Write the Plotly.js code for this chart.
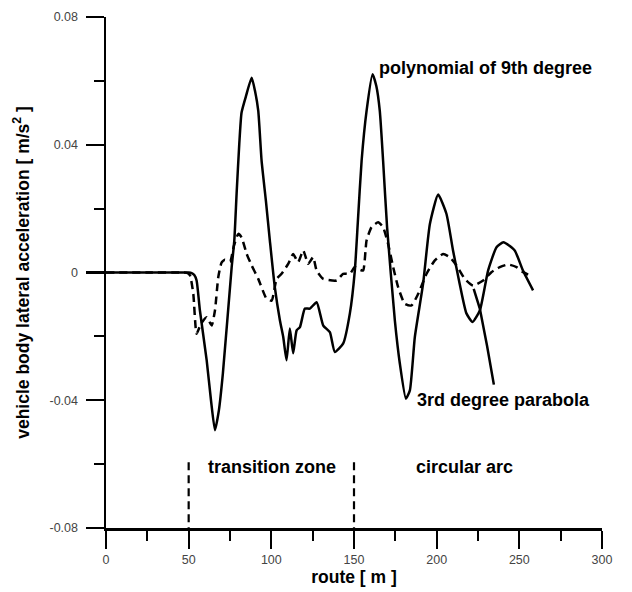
<!DOCTYPE html>
<html>
<head>
<meta charset="utf-8">
<script src="https://cdn.plot.ly/plotly-3.0.1.min.js"></script>
<style>html,body{margin:0;padding:0;background:#fff;}#chart{width:632px;height:592px;}</style>
</head>
<body>
<div id="chart"></div>
<script>
// Solid curve (route m, acceleration m/s2)
const solidRoute = [0, 25, 45, 50.0, 51.8, 53.4, 54.8, 56.8, 60.9, 63.5, 65.9, 68.3, 70.7, 76.0, 77.6, 79.0, 80.6, 82.0, 84.7, 88.1, 90.1, 92.1, 94.1, 96.7, 99.1, 102.1, 105.2, 107.2, 109.2, 111.2, 113.2, 115.3, 117.3, 120.3, 123.3, 127.4, 131.4, 135.4, 138.4, 143.4, 147.5, 150.5, 152.3, 154.6, 157.6, 161.2, 163.5, 165.6, 167.6, 170.0, 174.7, 177.7, 181.4, 183.8, 186.8, 191.8, 195.9, 200.9, 205.9, 209.9, 213.9, 218.0, 221.7, 226.1, 231.1, 236.2, 240.4, 247.2, 252.2, 258.3];
const solidAccel = [0, 0, 0, 0, -0.0002, -0.0008, -0.0025, -0.0119, -0.0275, -0.040, -0.0494, -0.0431, -0.0316, 0.0016, 0.0100, 0.0247, 0.0402, 0.0501, 0.0553, 0.0610, 0.0569, 0.0506, 0.0350, 0.0225, 0.0100, -0.0046, -0.0150, -0.0202, -0.0275, -0.0175, -0.0253, -0.0181, -0.0171, -0.0113, -0.0113, -0.0093, -0.0166, -0.0187, -0.0249, -0.0223, -0.0128, 0.0006, 0.0156, 0.0350, 0.0506, 0.0621, 0.0584, 0.0506, 0.0350, 0.0142, -0.0150, -0.0284, -0.0395, -0.0369, -0.0202, -0.0035, 0.0152, 0.0244, 0.0184, 0.0069, -0.0035, -0.0128, -0.0155, -0.0119, 0.0006, 0.0079, 0.0095, 0.0069, 0.0006, -0.0056];

// Dashed curve
const dashedRoute = [0, 25, 45, 49.0, 50.8, 52.8, 54.8, 57.5, 60.9, 63.9, 65.9, 67.9, 69.9, 71.9, 75.0, 77.4, 80.0, 82.0, 85.1, 88.1, 92.1, 97.1, 100.2, 103.2, 106.2, 110.2, 113.2, 116.2, 119.3, 122.3, 125.3, 127.4, 131.4, 139.5, 143.4, 147.5, 150.5, 153.0, 155.5, 157.6, 160.6, 164.6, 167.6, 170.6, 173.7, 176.7, 180.7, 184.8, 188.8, 193.9, 198.9, 203.9, 207.9, 212.0, 217.0, 222.0, 228.1, 233.1, 238.2, 243.2, 248.3, 252.3, 258.3];
const dashedAccel = [0, 0, 0, -0.0001, -0.0009, -0.0067, -0.0192, -0.0160, -0.0140, -0.0166, -0.0119, -0.0015, 0.0031, 0.0040, 0.0034, 0.0084, 0.0121, 0.0110, 0.0058, 0.0022, -0.0020, -0.0082, -0.0088, -0.0020, -0.0004, 0.0027, 0.0058, 0.0032, 0.0069, 0.0027, 0.0048, 0.0006, -0.0020, -0.0025, -0.0004, -0.0004, 0.0017, 0.0010, 0.0006, 0.0100, 0.0142, 0.0157, 0.0142, 0.0090, 0.0017, -0.0046, -0.0098, -0.0103, -0.0067, -0.0004, 0.0038, 0.0058, 0.0048, 0.0022, -0.0020, -0.0041, -0.0025, 0.0001, 0.0017, 0.0025, 0.0017, 0.0001, -0.0013];

// Short solid tail
const tailRoute = [222.4, 226.1, 230.5, 234.6];
const tailAccel = [-0.0051, -0.0113, -0.0230, -0.0351];

// Zone boundaries
const zoneBounds = [50, 150];
const zoneMarkY = [-0.0594, -0.08];

// Axis ticks
const xTickVals = [0, 50, 100, 150, 200, 250, 300];
const xTickText = ["0", "50", "100", "150", "200", "250", "300"];
const yTickVals = [0.08, 0.04, 0, -0.04, -0.08];
const yTickText = ["0.08", "0.04", "0", "-0.04", "-0.08"];

// Labels
const labelTexts = ["polynomial of 9th degree", "3rd degree parabola", "transition zone", "circular arc"];
const labelX = [164.6, 187.6, 61.1, 186.8];
const labelY = [0.0641, -0.0400, -0.0609, -0.0609];

const FONT = 'Liberation Sans, Arial, sans-serif';
const traces = [];
zoneBounds.forEach(b => {
  traces.push({x: [b, b], y: zoneMarkY, mode: 'lines', line: {color: '#000', width: 2.2, dash: '8px,5px'}, hoverinfo: 'skip', showlegend: false});
});
traces.push({x: dashedRoute, y: dashedAccel, mode: 'lines', line: {color: '#000', width: 2.5, dash: '8px,5px', shape: 'spline', smoothing: 0.5}, showlegend: false});
traces.push({x: solidRoute, y: solidAccel, mode: 'lines', line: {color: '#000', width: 2.5, shape: 'spline', smoothing: 0.5}, showlegend: false});
traces.push({x: tailRoute, y: tailAccel, mode: 'lines', line: {color: '#000', width: 2.5}, showlegend: false});

const annotations = labelTexts.map((t, i) => ({
  x: labelX[i], y: labelY[i], xref: 'x', yref: 'y', text: t, showarrow: false,
  xanchor: 'left', yanchor: 'middle', borderpad: 0,
  font: {family: FONT, size: 18, color: '#000', weight: 'bold'}
}));

const layout = {
  width: 632, height: 592,
  margin: {l: 106, r: 30, t: 17, b: 64},
  paper_bgcolor: '#fff', plot_bgcolor: '#fff',
  showlegend: false,
  xaxis: {
    range: [0, 300], showgrid: false, zeroline: false,
    showline: true, linecolor: '#000', linewidth: 2.5,
    ticks: 'outside', ticklen: 18, tickwidth: 2.2, tickcolor: '#000',
    tickvals: xTickVals, ticktext: xTickText,
    tickfont: {family: FONT, size: 12.5, color: '#444'},
    minor: {dtick: 25, ticks: 'outside', ticklen: 10, tickwidth: 2.2, tickcolor: '#000', showgrid: false},
    title: {text: 'route [ m ]', standoff: 3, font: {family: FONT, size: 17.5, color: '#000', weight: 'bold'}}
  },
  yaxis: {
    range: [-0.08, 0.08], showgrid: false, zeroline: false,
    showline: true, linecolor: '#000', linewidth: 2.5,
    ticks: 'outside', ticklen: 18, tickwidth: 2.2, tickcolor: '#000',
    tickvals: yTickVals, ticktext: yTickText,
    ticklabelstandoff: 5,
    tickfont: {family: FONT, size: 12.5, color: '#444'},
    minor: {dtick: 0.02, ticks: 'outside', ticklen: 10, tickwidth: 2.2, tickcolor: '#000', showgrid: false},
    title: {text: 'vehicle body lateral acceleration [ m/s<sup>2</sup> ]', standoff: 16, font: {family: FONT, size: 17.5, color: '#000', weight: 'bold'}}
  },
  annotations: annotations
};

Plotly.newPlot('chart', traces, layout, {displayModeBar: false, staticPlot: true});
</script>
</body>
</html>
